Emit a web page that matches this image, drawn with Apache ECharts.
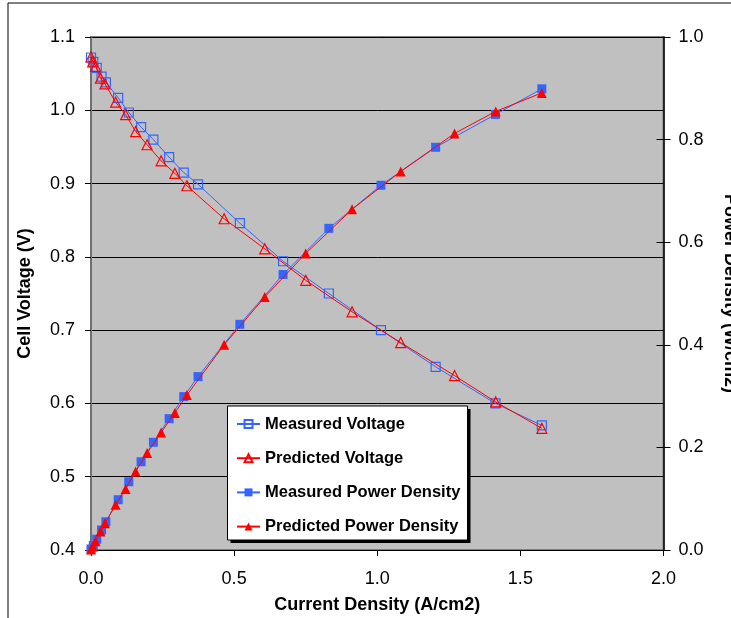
<!DOCTYPE html>
<html>
<head>
<meta charset="utf-8">
<script src="https://cdn.jsdelivr.net/npm/echarts@6/dist/echarts.min.js"></script>
<style>html,body{margin:0;padding:0;background:#fff}#c{width:731px;height:618px}</style>
</head>
<body>
<div id="c"></div>
<script>
// Measured data
const measuredCurrent = [0, 0.008, 0.02, 0.037, 0.052, 0.095, 0.132, 0.175, 0.218, 0.273, 0.324, 0.374, 0.520, 0.671, 0.831, 1.013, 1.204, 1.413, 1.575];
const measuredVoltage = [1.072, 1.066, 1.058, 1.046, 1.038, 1.017, 0.997, 0.977, 0.960, 0.936, 0.915, 0.899, 0.846, 0.794, 0.750, 0.700, 0.650, 0.600, 0.570];
const measuredPower   = [0.002, 0.009, 0.021, 0.039, 0.055, 0.098, 0.133, 0.172, 0.210, 0.256, 0.299, 0.338, 0.440, 0.537, 0.627, 0.711, 0.785, 0.849, 0.899];
// Predicted data
const predictedCurrent = [0, 0.006, 0.016, 0.033, 0.049, 0.086, 0.121, 0.156, 0.196, 0.245, 0.293, 0.335, 0.465, 0.607, 0.750, 0.912, 1.082, 1.270, 1.414, 1.575];
const predictedVoltage = [1.073, 1.066, 1.060, 1.044, 1.036, 1.011, 0.994, 0.971, 0.953, 0.931, 0.914, 0.897, 0.852, 0.811, 0.768, 0.725, 0.683, 0.638, 0.602, 0.566];
const predictedPower   = [0.001, 0.007, 0.017, 0.036, 0.052, 0.088, 0.119, 0.153, 0.189, 0.229, 0.267, 0.302, 0.400, 0.493, 0.578, 0.664, 0.738, 0.812, 0.855, 0.891];

const seriesNames = ['Measured Voltage', 'Predicted Voltage', 'Measured Power Density', 'Predicted Power Density'];
const xAxisName = 'Current Density (A/cm2)';
const yLeftName = 'Cell Voltage (V)';
const yRightName = 'Power Density (W/cm2)';

const FONT = '"Liberation Sans", Arial, sans-serif';
const BLUE = '#3366FF';
const RED = '#FF0000';

function pairs(xs, ys) { return xs.map((x, i) => [x, ys[i]]); }

const chart = echarts.init(document.getElementById('c'), null, {renderer: 'canvas'});
const fmt1 = v => v.toFixed(1);

chart.setOption({
  animation: false,
  backgroundColor: '#ffffff',
  textStyle: {fontFamily: FONT},
  grid: {left: 91, right: 67.5, top: 37, bottom: 68, show: true, backgroundColor: '#C0C0C0', borderColor: '#808080', borderWidth: 2, containLabel: false, outerBoundsMode: 'none'},
  graphic: [
    {type: 'rect', z: 0, silent: true, shape: {x: 8, y: 3, width: 900, height: 900}, style: {fill: 'none', stroke: '#000', lineWidth: 1}},
    {type: 'rect', z: 50, silent: true, shape: {x: 230.5, y: 409, width: 240, height: 134}, style: {fill: '#000'}},
    {type: 'rect', z: 51, silent: true, shape: {x: 227.5, y: 406, width: 240, height: 134}, style: {fill: '#fff', stroke: '#000', lineWidth: 1}}
  ],
  legend: {
    z: 60,
    orient: 'vertical',
    left: 227, top: 406,
    padding: [8, 6, 6, 9],
    itemWidth: 23, itemHeight: 10, itemGap: 14.2, itemTextGap: 5,
    backgroundColor: 'transparent',
    textStyle: {fontFamily: FONT, fontSize: 16.5, fontWeight: 'bold', color: '#000', lineHeight: 20},
    data: seriesNames
  },
  xAxis: {
    type: 'value', min: 0, max: 2, interval: 0.5,
    name: xAxisName, nameLocation: 'middle', nameGap: 46,
    nameTextStyle: {fontFamily: FONT, fontSize: 18, fontWeight: 'bold', color: '#000'},
    axisLine: {show: true, onZero: false, lineStyle: {color: '#000', width: 1}},
    axisTick: {show: true, length: 6, lineStyle: {color: '#000'}},
    axisLabel: {fontFamily: FONT, fontSize: 18, color: '#000', margin: 20, formatter: fmt1},
    splitLine: {show: false}
  },
  yAxis: [
    {
      type: 'value', position: 'left', min: 0.4, max: 1.1, interval: 0.1,
      name: yLeftName, nameLocation: 'middle', nameGap: 57, nameRotate: 90,
      nameTextStyle: {fontFamily: FONT, fontSize: 18, fontWeight: 'bold', color: '#000'},
      axisLine: {show: true, lineStyle: {color: '#707070', width: 2}},
      axisTick: {show: true, length: 6, lineStyle: {color: '#000'}},
      axisLabel: {fontFamily: FONT, fontSize: 18, color: '#000', margin: 16, formatter: fmt1},
      splitLine: {show: true, lineStyle: {color: '#000', width: 1}}
    },
    {
      type: 'value', position: 'right', min: 0, max: 1, interval: 0.2,
      name: yRightName, nameLocation: 'middle', nameGap: 57, nameRotate: -90,
      nameTextStyle: {fontFamily: FONT, fontSize: 18, fontWeight: 'bold', color: '#000'},
      axisLine: {show: true, lineStyle: {color: '#000', width: 1.5}},
      axisTick: {show: true, length: 7, lineStyle: {color: '#000'}},
      axisLabel: {fontFamily: FONT, fontSize: 18, color: '#000', margin: 15, formatter: fmt1},
      splitLine: {show: false}
    },
    {
      type: 'value', position: 'right', min: 0, max: 1, interval: 0.2,
      axisLine: {show: false},
      axisTick: {show: true, inside: true, length: 7, lineStyle: {color: '#000'}},
      axisLabel: {show: false},
      splitLine: {show: false}
    }
  ],
  series: [
    {
      name: seriesNames[0], type: 'line', yAxisIndex: 0, z: 3,
      data: pairs(measuredCurrent, measuredVoltage),
      symbol: 'rect', symbolSize: 9,
      itemStyle: {color: 'rgba(0,0,0,0)', borderColor: BLUE, borderWidth: 1.2},
      lineStyle: {color: BLUE, width: 1}
    },
    {
      name: seriesNames[1], type: 'line', yAxisIndex: 0, z: 4,
      data: pairs(predictedCurrent, predictedVoltage),
      symbol: 'triangle', symbolSize: 10,
      itemStyle: {color: 'rgba(0,0,0,0)', borderColor: RED, borderWidth: 1.2},
      lineStyle: {color: RED, width: 1}
    },
    {
      name: seriesNames[2], type: 'line', yAxisIndex: 1, z: 3,
      data: pairs(measuredCurrent, measuredPower),
      symbol: 'rect', symbolSize: 9,
      itemStyle: {color: BLUE},
      lineStyle: {color: BLUE, width: 1}
    },
    {
      name: seriesNames[3], type: 'line', yAxisIndex: 1, z: 4,
      data: pairs(predictedCurrent, predictedPower),
      symbol: 'triangle', symbolSize: 10,
      itemStyle: {color: RED},
      lineStyle: {color: RED, width: 1}
    }
  ]
});
</script>
</body>
</html>
